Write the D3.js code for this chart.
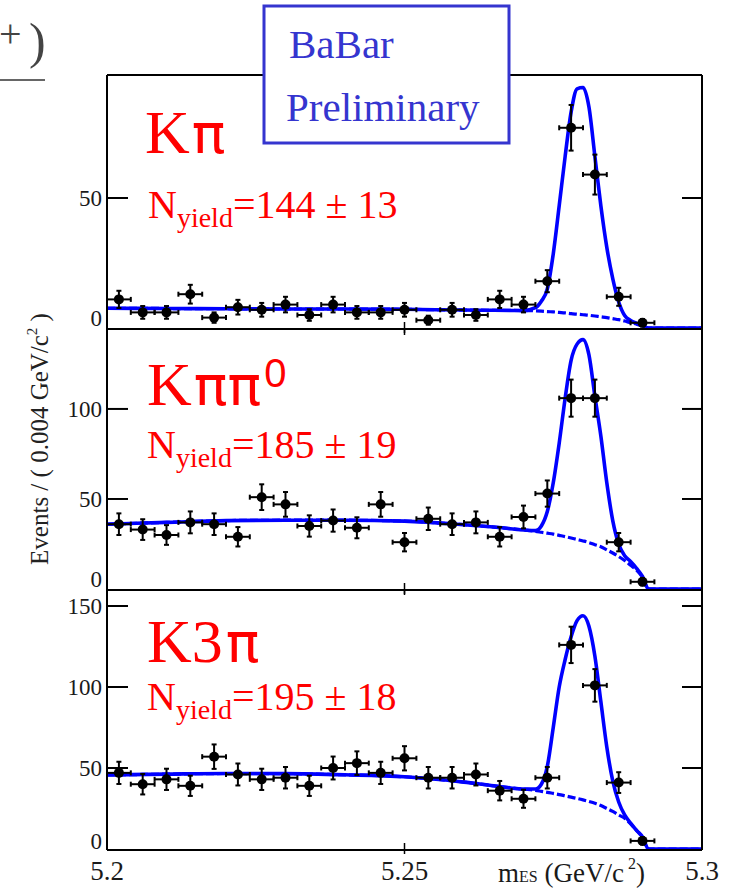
<!DOCTYPE html>
<html>
<head>
<meta charset="utf-8">
<script src="https://cdn.jsdelivr.net/npm/d3@7"></script>
<style>
html,body{margin:0;padding:0;background:#fff;}
svg{display:block;}
</style>
</head>
<body>
<svg id="chart" width="732" height="889"></svg>
<script>
// ---------------- data ----------------
const massBins = [5.202,5.206,5.210,5.214,5.218,5.222,5.226,5.230,5.234,5.238,5.242,5.246,5.250,
                  5.254,5.258,5.262,5.266,5.270,5.274,5.278,5.282,5.286,5.290];
const kpiCounts    = [11,6,6,13,4,8,7,9,5,9,6,6,7,3,7,5,11,9,18,77,59,12,2];
const kpipi0Counts = [36,33,30,37,36,29,51,47,35,38,34,47,26,39,36,37,29,40,53,106,106,26,4];
const k3piCounts   = [47,40,43,39,57,46,43,44,39,50,53,47,56,44,44,46,36,31,44,126,101,41,5];

const curveMass = [5.200,5.210,5.220,5.230,5.240,5.250,5.260,5.265,5.270,5.272,5.273,5.274,5.275,5.276,
                   5.277,5.278,5.279,5.280,5.281,5.282,5.283,5.284,5.285,5.286,5.287,5.288,5.289,5.290,5.291,5.300];
const kpiTotal    = [7.6,7.5,7.4,7.3,7.3,7.2,6.9,6.8,6.7,7.8,10.3,15,28.5,47,66,83,92,92.5,85,66,47,31,19,10,4.8,2.9,1.8,0.9,0,0];
const kpiBkg      = [7.6,7.5,7.4,7.3,7.3,7.2,6.9,6.8,6.7,6.6,6.5,6.3,6.2,6.0,5.8,5.5,5.3,5.1,4.9,4.6,4.3,4.0,3.6,3.2,2.7,2.0,1.5,0.8,0,0];
const kpipi0Total = [36,37,38,38.2,38.2,37.7,35.7,34.4,32.8,32.4,35,43,59,81,106,127,136,138.5,130,107,85,59,38,25,18.5,15.3,11.5,7,0,0];
const kpipi0Bkg   = [36,37,38,38.2,38.2,37.7,35.7,34.4,32.8,32.0,31.5,31,30.5,29.8,29.1,28.3,27.5,26.7,25.8,24.6,23.5,21.7,20.0,18,15.8,13.2,10.5,6.5,0,0];
const k3piTotal   = [45.7,46.2,46.6,46.5,45.8,44.6,41.3,39,37,37,40,51,75,100,117,131,141,144,137.5,119,91,63,42,29,21,16,11.5,7.5,0,0];
const k3piBkg     = [45.7,46.2,46.6,46.5,45.8,44.6,41.3,39,37,36.2,35.6,35,34.3,33.6,32.8,32,31.2,30.3,29.3,28.2,26.8,25,23.2,21,19,15.5,11.5,7,0,0];

const xTicks = [5.2, 5.25, 5.3];
const xTickLabels = ["5.2", "5.25", "5.3"];
const yTicks1 = [0, 50];
const yTicks2 = [0, 50, 100];
const yTicks3 = [0, 50, 100, 150];
const yields = ["144 ± 13", "185 ± 19", "195 ± 18"];
const yMax = [97.3, 144.4, 160.5];

// ---------------- layout ----------------
const svg = d3.select("#chart");
const X0 = 107, X1 = 702;
const x = d3.scaleLinear().domain([5.2, 5.3]).range([X0, X1]);
const binHalf = (x(5.204) - x(5.2)) / 2;
const BLUE = "#0000ff";
const SERIF = "Liberation Serif";
const SANS = "DejaVu Sans";

const panels = [
  {top: 75,  bottom: 328, ymax: yMax[0], ticks: yTicks1, counts: kpiCounts,    total: kpiTotal,    bkg: kpiBkg,    zeroShift: 10},
  {top: 329, bottom: 589, ymax: yMax[1], ticks: yTicks2, counts: kpipi0Counts, total: kpipi0Total, bkg: kpipi0Bkg, zeroShift: 10},
  {top: 589, bottom: 849, ymax: yMax[2], ticks: yTicks3, counts: k3piCounts,   total: k3piTotal,   bkg: k3piBkg,   zeroShift: 8}
];

panels.forEach((p, pi) => {
  const y = d3.scaleLinear().domain([0, p.ymax]).range([p.bottom, p.top]);
  const g = svg.append("g");
  const line = d3.line().x((d,i) => x(curveMass[i])).y(d => y(d)).curve(d3.curveMonotoneX);

  // background (dashed)
  g.append("path").attr("d", line(p.bkg)).attr("fill", "none")
    .attr("stroke", BLUE).attr("stroke-width", 3.2).attr("stroke-dasharray", "8,3");
  // total fit
  g.append("path").attr("d", line(p.total)).attr("fill", "none")
    .attr("stroke", BLUE).attr("stroke-width", 3.6);

  // frame
  g.append("line").attr("x1", X0).attr("x2", X0).attr("y1", p.top).attr("y2", p.bottom + 1)
    .attr("stroke", "#000").attr("stroke-width", 2);
  g.append("line").attr("x1", X1).attr("x2", X1).attr("y1", p.top).attr("y2", p.bottom + 1)
    .attr("stroke", "#000").attr("stroke-width", 2);
  g.append("line").attr("x1", X0).attr("x2", X1).attr("y1", p.bottom + 1).attr("y2", p.bottom + 1)
    .attr("stroke", "#000").attr("stroke-width", 2);
  if (pi === 0) {
    g.append("line").attr("x1", X0).attr("x2", X1).attr("y1", p.top).attr("y2", p.top)
      .attr("stroke", "#000").attr("stroke-width", 2);
  }

  // y axis ticks (inside, both sides) and labels
  p.ticks.forEach(t => {
    const yy = y(t);
    if (t !== 0) {
      g.append("line").attr("x1", X0).attr("x2", X0 + 21).attr("y1", yy).attr("y2", yy)
        .attr("stroke", "#000").attr("stroke-width", 2);
      g.append("line").attr("x1", X1 - 20).attr("x2", X1).attr("y1", yy).attr("y2", yy)
        .attr("stroke", "#000").attr("stroke-width", 2);
    }
    g.append("text").attr("x", 102).attr("text-anchor", "end")
      .attr("font-family", SERIF).attr("font-size", 23).attr("fill", "#1a1a1a")
      .attr("y", t === 0 ? yy - p.zeroShift : yy).attr("dy", "0.35em").text(t);
  });

  // x ticks at 5.25 (bottom crossing, top pointing down)
  [5.25].forEach(v => {
    g.append("line").attr("x1", x(v)).attr("x2", x(v)).attr("y1", p.bottom - 6).attr("y2", p.bottom + 5)
      .attr("stroke", "#000").attr("stroke-width", 1.5);
    g.append("line").attr("x1", x(v)).attr("x2", x(v)).attr("y1", p.top).attr("y2", p.top + 6)
      .attr("stroke", "#000").attr("stroke-width", 1.5);
  });

  // data points with error bars
  const pts = g.append("g");
  p.counts.forEach((c, i) => {
    const cx = x(massBins[i]), cy = y(c);
    const e = Math.sqrt(c);
    const yt = y(c + e), yb = y(Math.max(0, c - e));
    const L = (x1, y1, x2, y2) => pts.append("line").attr("x1", x1).attr("y1", y1).attr("x2", x2).attr("y2", y2)
      .attr("stroke", "#000").attr("stroke-width", 2);
    L(cx, yt, cx, yb);
    L(cx - 2.5, yt, cx + 2.5, yt);
    L(cx - 2.5, yb, cx + 2.5, yb);
    L(cx - binHalf, cy, cx + binHalf, cy);
    L(cx - binHalf, cy - 2.5, cx - binHalf, cy + 2.5);
    L(cx + binHalf, cy - 2.5, cx + binHalf, cy + 2.5);
    pts.append("circle").attr("cx", cx).attr("cy", cy).attr("r", 5).attr("fill", "#000");
  });
});

// ---------------- x axis labels ----------------
xTicks.forEach((v, i) => {
  svg.append("text").attr("x", x(v)).attr("y", 880).attr("text-anchor", "middle")
    .attr("font-family", SERIF).attr("font-size", 27).attr("fill", "#1a1a1a").text(xTickLabels[i]);
});
const xl = svg.append("text").attr("x", 498).attr("y", 882)
  .attr("font-family", SERIF).attr("font-size", 27).attr("fill", "#1a1a1a");
xl.append("tspan").text("m");
xl.append("tspan").attr("font-size", 16).text("ES");
xl.append("tspan").text(" (GeV/c");
xl.append("tspan").attr("font-size", 16).attr("dx", 4).attr("dy", -13).text("2");
xl.append("tspan").attr("dy", 13).text(")");

// ---------------- y axis label ----------------
const yl = svg.append("text").attr("transform", "translate(48,439) rotate(-90)")
  .attr("text-anchor", "middle").attr("font-family", SERIF).attr("font-size", 25).attr("fill", "#222");
yl.append("tspan").text("Events / ( 0.004 GeV/c");
yl.append("tspan").attr("font-size", 15).attr("dy", -11).text("2");
yl.append("tspan").attr("dy", 11).text(" )");

// ---------------- channel labels ----------------
const RED = "#ff0000";
function channel(xp, yp, parts) {
  const t = svg.append("text").attr("x", xp).attr("y", yp).attr("fill", RED);
  parts.forEach(pt => {
    const s = t.append("tspan").attr("font-family", pt.f).attr("font-size", pt.s).text(pt.t);
    if (pt.dy) s.attr("dy", pt.dy);
    if (pt.dx) s.attr("dx", pt.dx);
  });
}
channel(145, 153, [{t: "K", f: SERIF, s: 62}, {t: "π", f: SANS, s: 56, dx: 2}]);
channel(147, 405, [{t: "K", f: SERIF, s: 62}, {t: "ππ", f: SANS, s: 56, dx: 2}, {t: "0", f: "Liberation Sans", s: 40, dy: -18, dx: 3}]);
channel(147, 662, [{t: "K", f: SERIF, s: 62}, {t: "3", f: SERIF, s: 62}, {t: "π", f: SANS, s: 56, dx: 3}]);

const yieldPos = [[148, 218], [147, 458], [147, 710]];
yieldPos.forEach((pp, i) => {
  const t = svg.append("text").attr("x", pp[0]).attr("y", pp[1]).attr("fill", RED)
    .attr("font-family", SERIF).attr("font-size", 40);
  t.append("tspan").text("N");
  t.append("tspan").attr("font-size", 28).attr("dy", 9).text("yield");
  t.append("tspan").attr("dy", -9).text("=" + yields[i]);
});

// ---------------- BaBar box ----------------
svg.append("rect").attr("x", 264).attr("y", 6).attr("width", 245).attr("height", 137)
  .attr("fill", "#fff").attr("stroke", "#3535cf").attr("stroke-width", 3);
svg.append("text").attr("x", 289).attr("y", 58).attr("font-family", SERIF).attr("font-size", 41)
  .attr("fill", "#3535cf").text("BaBar");
svg.append("text").attr("x", 286).attr("y", 121).attr("font-family", SERIF).attr("font-size", 41)
  .attr("fill", "#3535cf").text("Preliminary");

// ---------------- cropped fragment at top-left ----------------
svg.append("text").attr("x", -1).attr("y", 47).attr("font-family", SERIF).attr("font-size", 40)
  .attr("fill", "#444").text("+");
svg.append("text").attr("x", 29).attr("y", 58).attr("font-family", SERIF).attr("font-size", 50)
  .attr("fill", "#444").text(")");
svg.append("line").attr("x1", 0).attr("x2", 45).attr("y1", 80).attr("y2", 80)
  .attr("stroke", "#333").attr("stroke-width", 1.5);
</script>
</body>
</html>
